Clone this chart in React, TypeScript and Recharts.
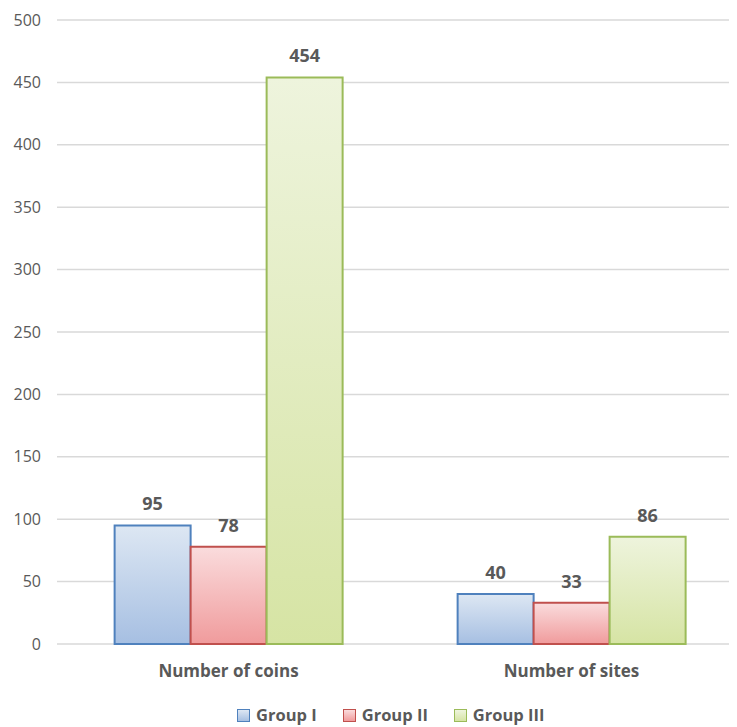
import React from "react";
import { BarChart, Bar, XAxis, YAxis, CartesianGrid, LabelList } from "recharts";

const categories = ["Number of coins", "Number of sites"];
const groupI = [95, 40];
const groupII = [78, 33];
const groupIII = [454, 86];
const yTicks = [0, 50, 100, 150, 200, 250, 300, 350, 400, 450, 500];

const seriesMeta = [
  { key: "g1", name: "Group I", stroke: "#4f81bd", top: "#dde7f3", bottom: "#a6bfe2", id: "gradBlue" },
  { key: "g2", name: "Group II", stroke: "#c0504d", top: "#fadcdd", bottom: "#f09b9c", id: "gradRed" },
  { key: "g3", name: "Group III", stroke: "#9bbb59", top: "#eef4dd", bottom: "#d6e4a4", id: "gradGreen" },
];

const data = categories.map((c, i) => ({ name: c, g1: groupI[i], g2: groupII[i], g3: groupIII[i] }));

const FONT = "'Open Sans', 'Noto Sans', sans-serif";
const GRAY = "#595959";

export default function App() {
  return (
    <div style={{ margin: "-8px 0 0 -8px", width: 760, height: 727, position: "relative", fontFamily: FONT }}>
      <BarChart
        width={743}
        height={690}
        data={data}
        margin={{ top: 20, right: 0, bottom: 0, left: 0 }}
        barCategoryGap="16.8%"
        barGap={0}
      >
        <defs>
          {seriesMeta.map((s) => (
            <linearGradient key={s.id} id={s.id} x1="0" y1="0" x2="0" y2="1">
              <stop offset="0%" stopColor={s.top} />
              <stop offset="100%" stopColor={s.bottom} />
            </linearGradient>
          ))}
        </defs>
        <CartesianGrid vertical={false} stroke="#d9d9d9" strokeWidth={1.5} />
        <XAxis
          dataKey="name"
          axisLine={false}
          tickLine={false}
          tickSize={0}
          tickMargin={21}
          height={46}
          tick={{ fill: GRAY, fontSize: 17, fontWeight: 700, fontFamily: FONT }}
        />
        <YAxis
          domain={[0, 500]}
          ticks={yTicks}
          interval={0}
          axisLine={false}
          tickLine={false}
          tickSize={0}
          tickMargin={16}
          width={57}
          tick={{ fill: GRAY, fontSize: 16, fontFamily: FONT }}
        />
        {seriesMeta.map((s) => (
          <Bar
            key={s.key}
            dataKey={s.key}
            name={s.name}
            fill={`url(#${s.id})`}
            stroke={s.stroke}
            strokeWidth={2}
            isAnimationActive={false}
          >
            <LabelList
              dataKey={s.key}
              position="top"
              offset={15}
              style={{ fill: GRAY, fontSize: 18, fontWeight: 700, fontFamily: FONT }}
            />
          </Bar>
        ))}
      </BarChart>
      <div
        style={{
          position: "absolute",
          top: 704,
          left: 237,
          display: "flex",
          gap: 26,
          color: GRAY,
          fontSize: 16.5,
          fontWeight: 700,
          fontFamily: FONT,
          lineHeight: "22px",
        }}
      >
        {seriesMeta.map((s) => (
          <div key={s.key} style={{ display: "flex", alignItems: "center", gap: 6 }}>
            <span
              style={{
                display: "inline-block",
                boxSizing: "border-box",
                width: 13,
                height: 13,
                border: `1.5px solid ${s.stroke}`,
                background: `linear-gradient(${s.top}, ${s.bottom})`,
              }}
            />
            <span>{s.name}</span>
          </div>
        ))}
      </div>
    </div>
  );
}
